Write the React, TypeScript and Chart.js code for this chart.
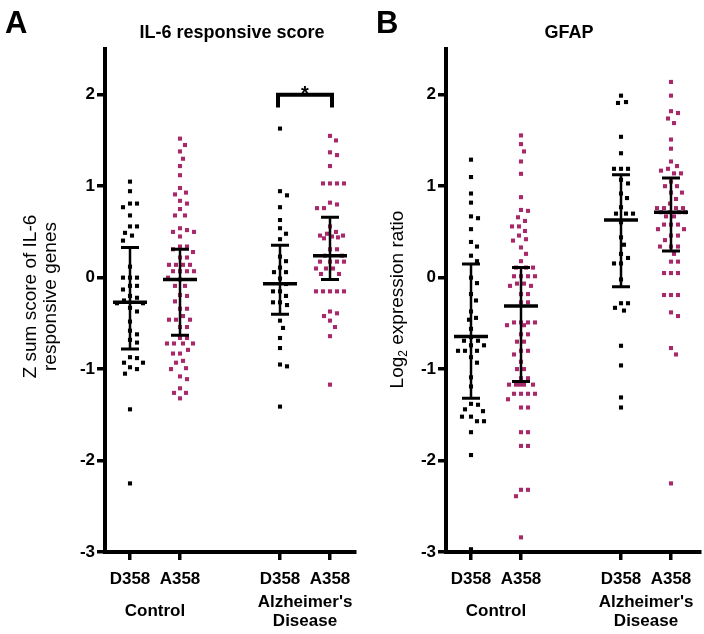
import React, { useEffect, useRef } from "react";
import { Chart, registerables } from "chart.js";
Chart.register(...registerables);

// ---------- categories & ticks ----------
const catPositions = [1, 2, 4, 5];
const xTickLabels = ["D358", "A358", "D358", "A358"];
const yTickValues = [-3, -2, -1, 0, 1, 2];
const groupLabels = ["Control", "Alzheimer's\nDisease"];
const groupPositions = [1.5, 4.5];

// ---------- Panel A: IL-6 responsive score ----------
const il6ControlD358 = [1.05, 0.945, 0.81, 0.81, 0.77, 0.68, 0.56, 0.56, 0.49, 0.46, 0.405, 0.12, 0.0, 0.0, 0.0, -0.09, -0.09, -0.13, -0.2, -0.22, -0.25, -0.28, -0.28, -0.33, -0.37, -0.48, -0.58, -0.62, -0.68, -0.71, -0.87, -0.88, -0.93, -0.93, -0.98, -1.0, -1.05, -1.44, -2.25];
const il6ControlA358 = [1.52, 1.45, 1.38, 1.3, 1.22, 1.12, 0.98, 0.93, 0.91, 0.84, 0.81, 0.75, 0.68, 0.68, 0.54, 0.52, 0.5, 0.5, 0.45, 0.34, 0.34, 0.31, 0.28, 0.22, 0.22, 0.14, 0.14, 0.14, 0.14, 0.07, 0.07, 0.07, 0.07, 0.0, -0.02, -0.09, -0.09, -0.19, -0.2, -0.26, -0.34, -0.34, -0.42, -0.46, -0.46, -0.46, -0.54, -0.54, -0.66, -0.66, -0.72, -0.72, -0.72, -0.72, -0.79, -0.83, -0.83, -0.91, -0.93, -0.99, -1.0, -1.08, -1.11, -1.21, -1.26, -1.26, -1.32];
const il6AdD358 = [1.63, 0.945, 0.9, 0.77, 0.63, 0.54, 0.48, 0.42, 0.23, 0.18, 0.11, 0.06, 0.06, -0.01, -0.07, -0.15, -0.15, -0.2, -0.27, -0.27, -0.3, -0.47, -0.55, -0.66, -0.77, -0.95, -0.97, -1.41];
const il6AdA358 = [1.55, 1.5, 1.37, 1.34, 1.22, 1.03, 1.03, 1.03, 1.03, 0.82, 0.8, 0.76, 0.76, 0.56, 0.5, 0.48, 0.46, 0.45, 0.44, 0.46, 0.43, 0.31, 0.31, 0.24, 0.24, 0.175, 0.175, 0.175, 0.175, 0.1, 0.1, 0.1, 0.04, 0.04, -0.15, -0.15, -0.15, -0.15, -0.15, -0.37, -0.39, -0.42, -0.47, -0.54, -0.64, -1.17];
const il6Median = [-0.27, -0.02, -0.066, 0.24];
const il6Q1 = [-0.78, -0.63, -0.4, -0.02];
const il6Q3 = [0.33, 0.31, 0.355, 0.66];

// ---------- Panel B: GFAP ----------
const gfapControlD358 = [1.29, 1.1, 0.92, 0.82, 0.67, 0.65, 0.53, 0.39, 0.34, 0.24, 0.18, 0.0, -0.06, -0.18, -0.25, -0.37, -0.44, -0.46, -0.56, -0.65, -0.69, -0.69, -0.74, -0.74, -0.8, -0.8, -0.8, -0.87, -0.93, -1.09, -1.19, -1.39, -1.38, -1.44, -1.46, -1.52, -1.52, -1.57, -1.57, -1.69, -1.94, -2.97];
const gfapControlA358 = [1.555, 1.46, 1.38, 1.27, 1.135, 0.88, 0.74, 0.73, 0.66, 0.62, 0.56, 0.56, 0.51, 0.46, 0.42, 0.405, 0.33, 0.26, 0.18, 0.11, 0.11, 0.11, 0.015, 0.015, 0.015, 0.015, -0.065, -0.065, -0.09, -0.09, -0.18, -0.18, -0.27, -0.27, -0.49, -0.49, -0.49, -0.49, -0.52, -0.52, -0.62, -0.62, -0.7, -0.7, -0.8, -0.8, -0.84, -0.92, -1.0, -1.0, -1.1, -1.1, -1.17, -1.17, -1.17, -1.17, -1.17, -1.27, -1.27, -1.27, -1.27, -1.33, -1.42, -1.42, -1.69, -1.69, -1.84, -1.84, -2.32, -2.32, -2.39, -2.84];
const gfapAdD358 = [1.99, 1.92, 1.91, 1.54, 1.36, 1.19, 1.19, 1.19, 1.07, 1.03, 0.92, 0.87, 0.77, 0.7, 0.7, 0.7, 0.605, 0.44, 0.36, 0.26, 0.215, 0.155, 0.155, -0.02, -0.28, -0.36, -0.33, -0.28, -0.745, -0.96, -1.31, -1.42];
const gfapAdA358 = [2.14, 1.99, 1.82, 1.8, 1.74, 1.69, 1.51, 1.41, 1.27, 1.22, 1.19, 1.17, 1.14, 1.14, 1.05, 1.0, 1.0, 0.93, 0.93, 0.86, 0.81, 0.76, 0.76, 0.76, 0.76, 0.715, 0.715, 0.715, 0.715, 0.67, 0.67, 0.58, 0.58, 0.58, 0.53, 0.53, 0.46, 0.46, 0.41, 0.34, 0.34, 0.34, 0.26, 0.175, 0.175, 0.05, 0.05, 0.05, -0.19, -0.19, -0.19, -0.42, -0.38, -0.77, -0.84, -2.25];
const gfapMedian = [-0.645, -0.31, 0.63, 0.715];
const gfapQ1 = [-1.32, -1.135, -0.1, 0.29];
const gfapQ3 = [0.15, 0.11, 1.125, 1.09];

// ---------- styling ----------
const FONT = "'Liberation Sans', Arial, sans-serif";
const BLACK = "#000000";
const MAGENTA = "#A8296A";
const seriesColors = [BLACK, MAGENTA, BLACK, MAGENTA];

// beeswarm jitter (pixel approximations of the scales), elliptical spacing, capped width
function swarm(values: number[], pos: number) {
  const pxPerX = 50;
  const pxPerY = 91.3;
  const rx = 7;
  const ry = 8;
  const maxOff = 14;
  const sorted = [...values].sort((a, b) => b - a);
  const placed: { x: number; y: number }[] = [];
  const out: { x: number; y: number }[] = [];
  for (const v of sorted) {
    const py = v * pxPerY;
    let chosen: number | null = null;
    let best = 0;
    let bestScore = -1;
    for (let k = 0; k <= maxOff * 2; k++) {
      const cand = k === 0 ? 0 : (k % 2 === 1 ? 1 : -1) * Math.ceil(k / 2);
      let minD = Infinity;
      for (const p of placed) {
        const dx = (cand - p.x) / rx;
        const dy = (py - p.y) / ry;
        minD = Math.min(minD, dx * dx + dy * dy);
      }
      if (minD >= 1) { chosen = cand; break; }
      if (minD > bestScore) { bestScore = minD; best = cand; }
    }
    const x = chosen === null ? best : chosen;
    placed.push({ x, y: py });
    out.push({ x: pos + x / pxPerX, y: v });
  }
  return out;
}

type Panel = {
  letter: string;
  title: string;
  series: number[][];
  median: number[];
  q1: number[];
  q3: number[];
  width: number;
  yAxisWidth: number;
  padRight: number;
  xMax: number;
  titleX: number;
  letterX: number;
  yTitleX: number;
  yTitle: "il6" | "gfap";
  bracket: boolean;
};

function overlayPlugin(p: Panel) {
  return {
    id: "overlay" + p.letter,
    afterDatasetsDraw(chart: any) {
      const ctx = chart.ctx;
      const xs = chart.scales.x;
      const ys = chart.scales.y;
      ctx.save();
      ctx.strokeStyle = BLACK;
      ctx.lineCap = "butt";
      for (let i = 0; i < catPositions.length; i++) {
        const x = xs.getPixelForValue(catPositions[i]);
        const yq1 = ys.getPixelForValue(p.q1[i]);
        const yq3 = ys.getPixelForValue(p.q3[i]);
        const ym = ys.getPixelForValue(p.median[i]);
        ctx.lineWidth = 2.5;
        ctx.beginPath();
        ctx.moveTo(x, yq3);
        ctx.lineTo(x, yq1);
        ctx.stroke();
        ctx.lineWidth = 3;
        ctx.beginPath();
        ctx.moveTo(x - 9, yq1); ctx.lineTo(x + 9, yq1);
        ctx.moveTo(x - 9, yq3); ctx.lineTo(x + 9, yq3);
        ctx.stroke();
        ctx.lineWidth = 3.5;
        ctx.beginPath();
        ctx.moveTo(x - 17, ym); ctx.lineTo(x + 17, ym);
        ctx.stroke();
      }
      ctx.restore();
    },
    afterDraw(chart: any) {
      const ctx = chart.ctx;
      const xs = chart.scales.x;
      const ys = chart.scales.y;
      ctx.save();
      ctx.fillStyle = BLACK;
      // panel letter
      ctx.font = `bold 31px ${FONT}`;
      ctx.textAlign = "left";
      ctx.textBaseline = "alphabetic";
      ctx.fillText(p.letter, p.letterX, 33);
      // title
      ctx.font = `bold 18px ${FONT}`;
      ctx.textAlign = "center";
      ctx.fillText(p.title, p.titleX, 38);
      // group labels
      ctx.font = `bold 17px ${FONT}`;
      ctx.textBaseline = "middle";
      ctx.fillText(groupLabels[0], xs.getPixelForValue(groupPositions[0]), 611);
      const ad = groupLabels[1].split("\n");
      ctx.fillText(ad[0], xs.getPixelForValue(groupPositions[1]), 602);
      ctx.fillText(ad[1], xs.getPixelForValue(groupPositions[1]), 621);
      // y-axis title
      const cy = (chart.chartArea.top + chart.chartArea.bottom) / 2 - 4;
      if (p.yTitle === "il6") {
        ctx.font = `19px ${FONT}`;
        ctx.save();
        ctx.translate(p.yTitleX, cy);
        ctx.rotate(-Math.PI / 2);
        ctx.textAlign = "center";
        ctx.textBaseline = "middle";
        ctx.fillText("Z sum score of IL-6", 0, 0);
        ctx.fillText("responsive genes", 0, 20);
        ctx.restore();
      } else {
        ctx.save();
        ctx.translate(p.yTitleX, cy + 3);
        ctx.rotate(-Math.PI / 2);
        ctx.textAlign = "left";
        ctx.textBaseline = "middle";
        ctx.font = `19px ${FONT}`;
        const w1 = ctx.measureText("Log").width;
        const w3 = ctx.measureText(" expression ratio").width;
        ctx.font = `12px ${FONT}`;
        const w2 = ctx.measureText("2").width;
        const start = -(w1 + w2 + w3) / 2;
        ctx.font = `19px ${FONT}`;
        ctx.fillText("Log", start, 0);
        ctx.font = `12px ${FONT}`;
        ctx.fillText("2", start + w1, 6);
        ctx.font = `19px ${FONT}`;
        ctx.fillText(" expression ratio", start + w1 + w2, 0);
        ctx.restore();
      }
      // significance bracket
      if (p.bracket) {
        const x1 = xs.getPixelForValue(catPositions[2]) - 2;
        const x2 = xs.getPixelForValue(catPositions[3]) + 2;
        const yTop = ys.getPixelForValue(2.0);
        const yLeg = ys.getPixelForValue(1.86);
        ctx.strokeStyle = BLACK;
        ctx.lineWidth = 4;
        ctx.lineJoin = "miter";
        ctx.beginPath();
        ctx.moveTo(x1, yLeg);
        ctx.lineTo(x1, yTop);
        ctx.lineTo(x2, yTop);
        ctx.lineTo(x2, yLeg);
        ctx.stroke();
        ctx.font = `bold 20px ${FONT}`;
        ctx.textAlign = "center";
        ctx.textBaseline = "alphabetic";
        ctx.fillText("*", (x1 + x2) / 2, 100);
      }
      ctx.restore();
    },
  };
}

function makeConfig(p: Panel): any {
  const axisGrid = {
    display: true,
    drawOnChartArea: false,
    drawTicks: true,
    tickLength: 8,
    lineWidth: 3.5,
    color: BLACK,
  };
  const axisBorder = { display: true, width: 4, color: BLACK };
  return {
    type: "scatter",
    data: {
      datasets: p.series.map((vals, i) => ({
        data: swarm(vals, catPositions[i]),
        backgroundColor: seriesColors[i],
        borderColor: seriesColors[i],
        pointStyle: "rect",
        pointRadius: 2.9,
        pointHoverRadius: 2.9,
        pointBorderWidth: 0,
      })),
    },
    options: {
      animation: false,
      responsive: false,
      maintainAspectRatio: false,
      events: [],
      layout: { padding: { left: 0, right: p.padRight, top: 49, bottom: 0 } },
      plugins: { legend: { display: false }, tooltip: { enabled: false }, title: { display: false } },
      scales: {
        x: {
          type: "linear",
          min: 0.5,
          max: p.xMax,
          afterBuildTicks: (s: any) => {
            s.ticks = catPositions.map((v) => ({ value: v }));
          },
          afterFit: (s: any) => {
            s.height = 82;
          },
          ticks: {
            autoSkip: false,
            maxRotation: 0,
            padding: 9,
            color: BLACK,
            font: { family: FONT, size: 17, weight: "bold" },
            callback: (v: number) => xTickLabels[catPositions.indexOf(v)] ?? "",
          },
          grid: axisGrid,
          border: axisBorder,
        },
        y: {
          min: -3,
          max: 2.5,
          afterBuildTicks: (s: any) => {
            s.ticks = yTickValues.map((v) => ({ value: v }));
          },
          afterFit: (s: any) => {
            s.width = p.yAxisWidth;
          },
          ticks: {
            padding: 2,
            color: BLACK,
            font: { family: FONT, size: 17, weight: "bold" },
          },
          grid: axisGrid,
          border: axisBorder,
        },
      },
    },
    plugins: [overlayPlugin(p)],
  };
}

const panelA: Panel = {
  letter: "A",
  title: "IL-6 responsive score",
  series: [il6ControlD358, il6ControlA358, il6AdD358, il6AdA358],
  median: il6Median,
  q1: il6Q1,
  q3: il6Q3,
  width: 360,
  yAxisWidth: 105,
  padRight: 5,
  xMax: 5.5,
  titleX: 232,
  letterX: 5,
  yTitleX: 31,
  yTitle: "il6",
  bracket: true,
};

const panelB: Panel = {
  letter: "B",
  title: "GFAP",
  series: [gfapControlD358, gfapControlA358, gfapAdD358, gfapAdA358],
  median: gfapMedian,
  q1: gfapQ1,
  q3: gfapQ3,
  width: 344,
  yAxisWidth: 86,
  padRight: 4,
  xMax: 5.58,
  titleX: 209,
  letterX: 16,
  yTitleX: 38,
  yTitle: "gfap",
  bracket: false,
};

function PanelChart({ panel, left }: { panel: Panel; left: number }) {
  const ref = useRef<HTMLCanvasElement | null>(null);
  useEffect(() => {
    if (!ref.current) return;
    const chart = new Chart(ref.current, makeConfig(panel));
    return () => chart.destroy();
  }, [panel]);
  return (
    <canvas
      ref={ref}
      width={panel.width}
      height={634}
      style={{ position: "absolute", left, top: 0, width: panel.width, height: 634 }}
    />
  );
}

export default function App() {
  return (
    <div
      style={{
        position: "fixed",
        left: 0,
        top: 0,
        width: 704,
        height: 634,
        background: "#ffffff",
        overflow: "hidden",
      }}
    >
      <PanelChart panel={panelA} left={0} />
      <PanelChart panel={panelB} left={360} />
    </div>
  );
}
